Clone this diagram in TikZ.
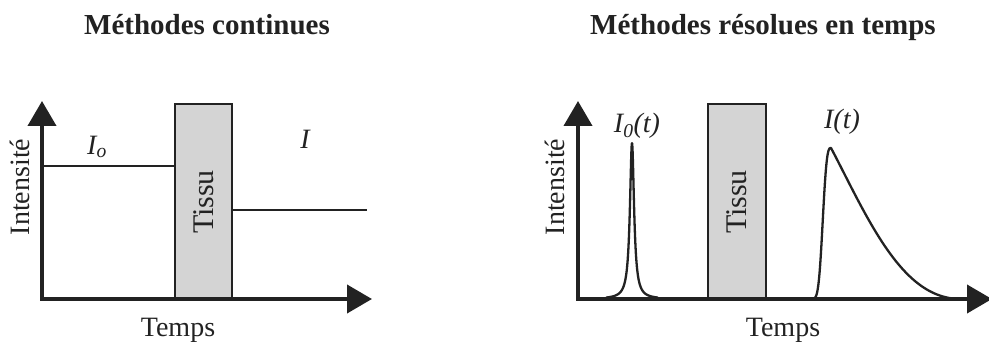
\documentclass[tikz,border=0pt]{standalone}
\usepackage{fontspec}
\setmainfont{Liberation Serif}
\usetikzlibrary{arrows.meta}
\definecolor{ink}{HTML}{222222}
\definecolor{tissugray}{HTML}{D4D4D4}
\tikzset{
  axisline/.style={draw=ink, line width=4pt, -{Triangle[length=25pt,width=28pt]}},
  levelline/.style={draw=ink, line width=2pt},
  pulse/.style={draw=ink, line width=2.3pt, line join=round},
  tissubox/.style={draw=ink, line width=1.5pt, fill=tissugray},
  lbl/.style={font=\fontsize{28}{30}\selectfont, text=ink, inner sep=0pt},
  tissulbl/.style={font=\fontsize{30}{32}\selectfont, text=ink, inner sep=0pt, rotate=90},
  ttl/.style={font=\fontsize{29}{32}\selectfont\bfseries, text=ink, inner sep=0pt, anchor=base},
  mathlbl/.style={font=\fontsize{28}{30}\selectfont\itshape, text=ink, inner sep=0pt}
}
\begin{document}
\begin{tikzpicture}[x=1pt,y=-1pt]
\useasboundingbox (0,0) rectangle (989,342);
% ---------- left panel ----------
\coordinate (LO) at (42,299);
\coordinate (LY) at (42,101);
\coordinate (LX) at (372,299);
\node[ttl] (t1) at (207,35) {Méthodes continues};
\draw[tissubox] (175,104) rectangle (232,299);
\node[tissulbl] (tissuL) at (204,202) {Tissu};
\coordinate (I0a) at (42,166);
\coordinate (I0b) at (175,166);
\coordinate (Ia) at (232,210);
\coordinate (Ib) at (367,210);
\draw[levelline] (I0a) -- (I0b);
\draw[levelline] (Ia) -- (Ib);
\draw[axisline] ([yshift=2pt]LO) -- (LY);
\draw[axisline] ([xshift=-2pt]LO) -- (LX);
\node[lbl, rotate=90] (intL) at (20,187) {Intensité};
\node[lbl, anchor=base] (tempsL) at (178,336) {Temps};
\node[mathlbl] (labI0) at (97,147) {I\textsubscript{o}};
\node[mathlbl] (labI) at (305,139) {I};
% ---------- right panel ----------
\coordinate (RO) at (578,299);
\coordinate (RY) at (578,101);
\coordinate (RX) at (992,299);
\node[ttl] (t2) at (763,35) {Méthodes résolues en temps};
\draw[tissubox] (708,104) rectangle (766,299);
\node[tissulbl] (tissuR) at (737,202) {Tissu};
\draw[pulse] plot[domain=606:658, samples=300] (\x, {299-156/(1+((\x-632)/2.5)^2)});
\draw[pulse] plot[domain=798:831, samples=120] (\x, {299-151*exp(-(abs(\x-831)/9.5)^3)})
  -- plot[domain=831:961, samples=160] (\x, {299-151*exp(-(\x-831)/80)*(1-((\x-831)/130)^2)^2})
  -- (966,299);
\draw[axisline] ([yshift=2pt]RO) -- (RY);
\draw[axisline] ([xshift=-2pt]RO) -- (RX);
\node[lbl, rotate=90] (intR) at (555,187) {Intensité};
\node[lbl, anchor=base] (tempsR) at (783,336) {Temps};
\node[mathlbl] (labI0t) at (637,126) {I\textsubscript{0}(t)};
\node[mathlbl] (labIt) at (842,122) {I(t)};
\end{tikzpicture}
\end{document}
